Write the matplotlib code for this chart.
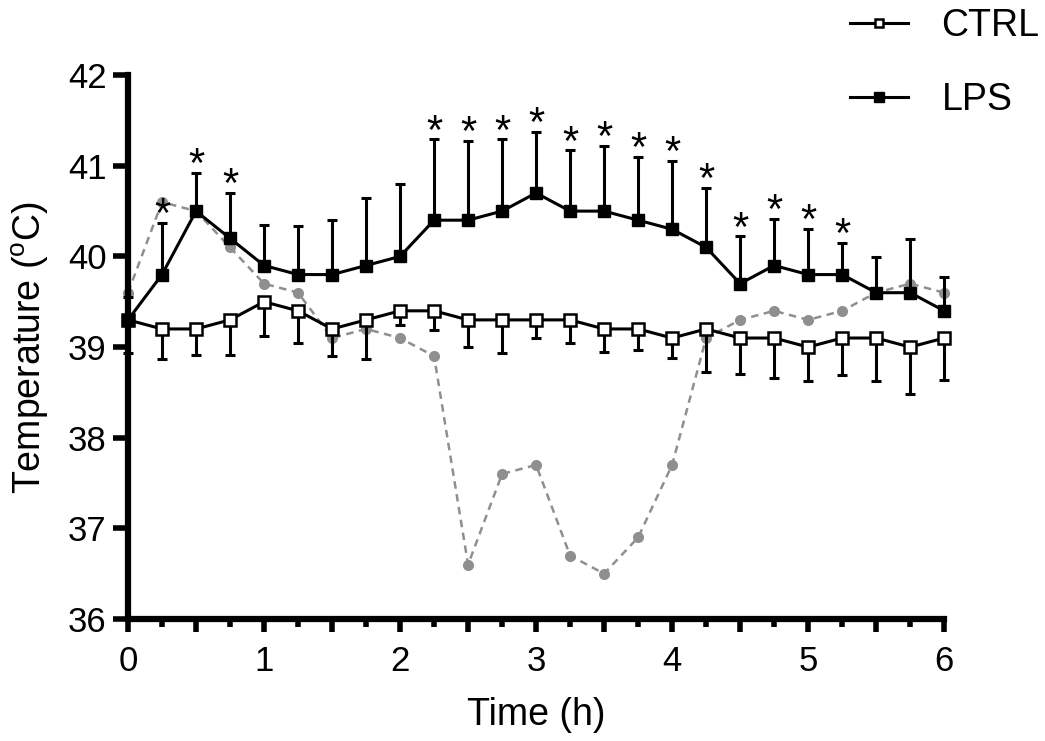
import numpy as np
import matplotlib
matplotlib.use("Agg")
import matplotlib.pyplot as plt
from matplotlib.ticker import MultipleLocator, FuncFormatter

plt.rcParams['font.family'] = ['Liberation Sans', 'DejaVu Sans']
plt.rcParams['mathtext.fontset'] = 'custom'
plt.rcParams['mathtext.rm'] = 'Liberation Sans'

# time points (h)
time = np.arange(0, 6.01, 0.25)

# mean temperatures (°C)
ctrl_mean = [39.3, 39.2, 39.2, 39.3, 39.5, 39.4, 39.2, 39.3, 39.4, 39.4, 39.3, 39.3, 39.3,
             39.3, 39.2, 39.2, 39.1, 39.2, 39.1, 39.1, 39.0, 39.1, 39.1, 39.0, 39.1]
lps_mean = [39.3, 39.8, 40.5, 40.2, 39.9, 39.8, 39.8, 39.9, 40.0, 40.4, 40.4, 40.5, 40.7,
            40.5, 40.5, 40.4, 40.3, 40.1, 39.7, 39.9, 39.8, 39.8, 39.6, 39.6, 39.4]
# error bars (CTRL drawn downward, LPS drawn upward)
ctrl_err = [0.37, 0.33, 0.29, 0.39, 0.38, 0.36, 0.30, 0.43, 0.16, 0.21, 0.30, 0.37, 0.20,
            0.25, 0.25, 0.23, 0.22, 0.47, 0.40, 0.44, 0.37, 0.41, 0.47, 0.52, 0.46]
lps_err = [0.25, 0.57, 0.42, 0.50, 0.45, 0.54, 0.60, 0.75, 0.80, 0.89, 0.87, 0.79, 0.67,
           0.67, 0.72, 0.70, 0.75, 0.66, 0.52, 0.51, 0.50, 0.35, 0.39, 0.59, 0.37]
# grey dashed trace
grey_vals = [39.6, 40.6, 40.5, 40.1, 39.7, 39.6, 39.1, 39.2, 39.1, 38.9, 36.6, 37.6, 37.7,
             36.7, 36.5, 36.9, 37.7, 39.1, 39.3, 39.4, 39.3, 39.4, 39.6, 39.7, 39.6]
# time points marked significant
sig_times = [0.25, 0.5, 0.75, 2.25, 2.5, 2.75, 3.0, 3.25, 3.5, 3.75, 4.0, 4.25,
             4.5, 4.75, 5.0, 5.25]

ctrl_mean = np.array(ctrl_mean)
lps_mean = np.array(lps_mean)
ctrl_err = np.array(ctrl_err)
lps_err = np.array(lps_err)
zeros = np.zeros_like(time)

fig = plt.figure(figsize=(10.45, 7.41), dpi=100)
ax = fig.add_axes([0.1225, 0.1646, 0.781, 0.734])

# grey trace behind
ax.plot(time, grey_vals, color='#8f8f8f', linestyle='--', linewidth=1.8, dashes=(3, 2.2),
        marker='o', markersize=8, markeredgewidth=0, zorder=2, clip_on=False)

# error bars
ax.errorbar(time, ctrl_mean, yerr=[ctrl_err, zeros], fmt='none', ecolor='black',
            elinewidth=2.2, capsize=3.5, capthick=2.2, zorder=3, clip_on=False)
ax.errorbar(time, lps_mean, yerr=[zeros, lps_err], fmt='none', ecolor='black',
            elinewidth=2.2, capsize=3.5, capthick=2.2, zorder=3, clip_on=False)

# mean lines
ax.plot(time, ctrl_mean, color='black', linewidth=2.2, marker='s', markersize=8,
        markerfacecolor='white', markeredgecolor='black', markeredgewidth=1.8,
        label='CTRL', zorder=5, clip_on=False)
ax.plot(time, lps_mean, color='black', linewidth=2.2, marker='s', markersize=9,
        markerfacecolor='black', markeredgecolor='black', label='LPS', zorder=6,
        clip_on=False)

# significance asterisks
for t in sig_times:
    i = int(round(t / 0.25))
    ax.annotate('*', (time[i], lps_mean[i] + lps_err[i]), xytext=(0, -3),
                textcoords='offset points', ha='center', va='baseline', fontsize=30)

ax.set_xlim(0, 6)
ax.set_ylim(36, 42)
ax.xaxis.set_major_locator(MultipleLocator(0.5))
ax.xaxis.set_minor_locator(MultipleLocator(0.25))
ax.xaxis.set_major_formatter(FuncFormatter(lambda v, p: f'{v:.0f}' if abs(v - round(v)) < 1e-6 else ''))
ax.yaxis.set_major_locator(MultipleLocator(1))

for side in ['top', 'right']:
    ax.spines[side].set_visible(False)
for side in ['left', 'bottom']:
    ax.spines[side].set_linewidth(4.5)

ax.tick_params(axis='y', which='major', length=10.5, width=4, labelsize=25, pad=5)
ax.tick_params(axis='x', which='major', length=9.5, width=4, labelsize=25, pad=9)
ax.tick_params(axis='x', which='minor', length=5.5, width=4)

ax.set_xlabel('Time (h)', fontsize=27, labelpad=14)
ax.set_ylabel('Temperature ($^{\\mathrm{o}}$C)', fontsize=27, labelpad=12)

leg = fig.legend(loc='upper left', bbox_to_anchor=(0.795, 1.014), frameon=False,
                 fontsize=27, handlelength=1.55, handletextpad=0.9, labelspacing=1.0,
                 borderpad=0, markerscale=0.75)

fig.savefig('out.png', dpi=100)
